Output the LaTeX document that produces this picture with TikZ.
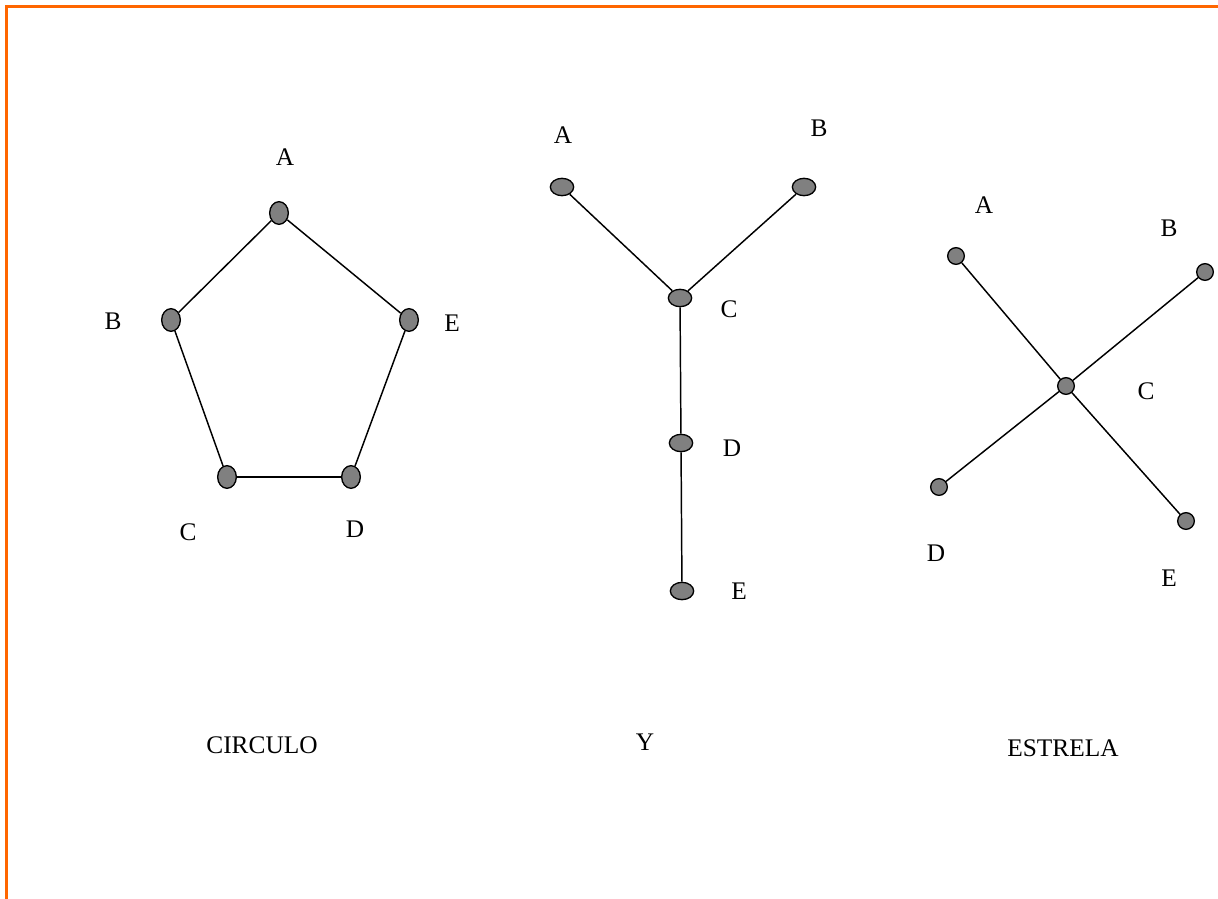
\documentclass[tikz,border=0pt]{standalone}
\usepackage{fontspec}
\setmainfont{Liberation Serif}
\usetikzlibrary{shapes.geometric}
\definecolor{frameorange}{HTML}{FF6600}
\definecolor{nodegray}{HTML}{808080}
\begin{document}
\begin{tikzpicture}[x=0.75pt,y=-0.75pt,
  lbl/.style={inner sep=0pt,font=\fontsize{19}{22}\selectfont},
  cnode/.style={ellipse,draw=black,fill=nodegray,line width=1pt,inner sep=0pt,minimum width=14pt,minimum height=17pt},
  ynode/.style={ellipse,draw=black,fill=nodegray,line width=1pt,inner sep=0pt,minimum width=17.5pt,minimum height=13pt},
  snode/.style={circle,draw=black,fill=nodegray,line width=1pt,inner sep=0pt,minimum size=12.5pt},
  edge/.style={draw=black,line width=1.1pt},
  frame/.style={draw=frameorange,line width=2pt}]
\useasboundingbox (0,0) rectangle (1218,899);
% frame
\coordinate (f1) at (6.5,899);
\coordinate (f2) at (6.5,6.5);
\coordinate (f3) at (1218,6.5);
\draw[frame] (f1) -- (f2) -- (f3);
% CIRCULO graph
\node[cnode] (cA) at (279,213) {};
\node[cnode] (cB) at (171,320) {};
\node[cnode] (cE) at (409,320) {};
\node[cnode] (cC) at (227,477) {};
\node[cnode] (cD) at (351,477) {};
\draw[edge] (cA) -- (cB);
\draw[edge] (cA) -- (cE);
\draw[edge] (cB) -- (cC);
\draw[edge] (cE) -- (cD);
\draw[edge] (cC) -- (cD);
\node[lbl] (lcA) at (285,157) {A};
\node[lbl] (lcB) at (113,321) {B};
\node[lbl] (lcE) at (452,323) {E};
\node[lbl] (lcC) at (188,532) {C};
\node[lbl] (lcD) at (355,529) {D};
\node[lbl] (tC) at (262,745) {CIRCULO};
% Y graph
\node[ynode] (yA) at (562,187) {};
\node[ynode] (yB) at (804,187) {};
\node[ynode] (yC) at (680,298) {};
\node[ynode] (yD) at (681,443) {};
\node[ynode] (yE) at (682,591) {};
\draw[edge] (yA) -- (yC);
\draw[edge] (yB) -- (yC);
\draw[edge] (yC) -- (yD);
\draw[edge] (yD) -- (yE);
\node[lbl] (lyA) at (563,135) {A};
\node[lbl] (lyB) at (819,128) {B};
\node[lbl] (lyC) at (729,309) {C};
\node[lbl] (lyD) at (732,448) {D};
\node[lbl] (lyE) at (739,591) {E};
\node[lbl] (tY) at (645,742) {Y};
% ESTRELA graph
\node[snode] (sA) at (956,256) {};
\node[snode] (sB) at (1205,272) {};
\node[snode] (sC) at (1066,386) {};
\node[snode] (sD) at (939,487) {};
\node[snode] (sE) at (1186,521) {};
\draw[edge] (sA) -- (sC);
\draw[edge] (sB) -- (sC);
\draw[edge] (sD) -- (sC);
\draw[edge] (sE) -- (sC);
\node[lbl] (lsA) at (984,205) {A};
\node[lbl] (lsB) at (1169,228) {B};
\node[lbl] (lsC) at (1146,391) {C};
\node[lbl] (lsD) at (936,553) {D};
\node[lbl] (lsE) at (1169,578) {E};
\node[lbl] (tS) at (1063,748) {ESTRELA};
\end{tikzpicture}
\end{document}
